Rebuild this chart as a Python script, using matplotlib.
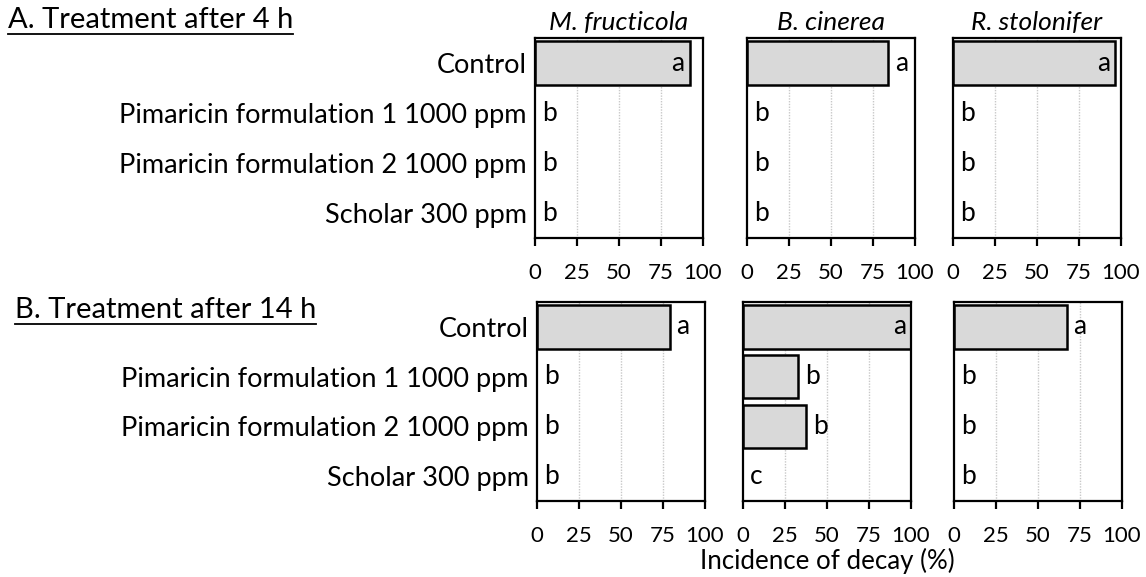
import matplotlib
matplotlib.use("Agg")
import matplotlib.pyplot as plt
from matplotlib.lines import Line2D

plt.rcParams['font.family'] = ['Lato', 'DejaVu Sans']

treatments = ["Control", "Pimaricin formulation 1 1000 ppm",
              "Pimaricin formulation 2 1000 ppm", "Scholar 300 ppm"]
pathogens = ["M. fructicola", "B. cinerea", "R. stolonifer"]

# Incidence of decay (%) after 4 h, per pathogen
decay_4h_mf = [92, 0, 0, 0]
decay_4h_bc = [84, 0, 0, 0]
decay_4h_rs = [96.5, 0, 0, 0]
# Incidence of decay (%) after 14 h, per pathogen
decay_14h_mf = [79, 0, 0, 0]
decay_14h_bc = [100, 33, 37.5, 0]
decay_14h_rs = [67, 0, 0, 0]

letters_4h_mf = ["a", "b", "b", "b"]
letters_4h_bc = ["a", "b", "b", "b"]
letters_4h_rs = ["a", "b", "b", "b"]
letters_14h_mf = ["a", "b", "b", "b"]
letters_14h_bc = ["a", "b", "b", "c"]
letters_14h_rs = ["a", "b", "b", "b"]

xticks = [0, 25, 50, 75, 100]

W, H = 1146, 577
fig = plt.figure(figsize=(W / 100, H / 100), dpi=100)

FS_CAT = 19.5
FS_TICK = 16
FS_LET = 19
FS_TITLE = 19
FS_XLAB = 18.6
FS_HEAD = 21


def px_axes(left, top, width, height):
    return fig.add_axes([left / W, 1 - (top + height) / H, width / W, height / H])


def panel(ax, values, letters, show_labels):
    y = list(range(len(values)))
    # no outline on empty bars so the left spine keeps a uniform weight
    edge_w = [1.8 if v > 0 else 0 for v in values]
    ax.barh(y, values, height=0.87, color="#d9d9d9", edgecolor="black",
            linewidth=edge_w, zorder=3)
    ax.set_xlim(0, 100)
    ax.set_ylim(3.5, -0.5)
    ax.set_xticks(xticks)
    ax.set_xticklabels([str(t) for t in xticks], fontsize=FS_TICK)
    for t in [25, 50, 75]:
        ax.axvline(t, color="#c8c8c8", linestyle=(0, (1, 1)), linewidth=1, zorder=1)
    ax.tick_params(axis="x", direction="out", length=6, width=1.6, pad=12)
    ax.tick_params(axis="y", length=0)
    if show_labels:
        ax.set_yticks(y)
        ax.set_yticklabels(treatments, fontsize=FS_CAT)
        ax.tick_params(axis="y", pad=6)
    else:
        ax.set_yticks([])
    for s in ax.spines.values():
        s.set_linewidth(1.6)
        s.set_zorder(4)
    for yi, (v, lab) in enumerate(zip(values, letters)):
        if v >= 90:
            ax.text(v - 3, yi, lab, ha="right", va="center", fontsize=FS_LET, zorder=5)
        elif v > 0:
            ax.text(v + 4, yi, lab, ha="left", va="center", fontsize=FS_LET, zorder=5)
        else:
            ax.text(4, yi, lab, ha="left", va="center", fontsize=FS_LET, zorder=5)


top_lefts = [535, 747, 953]
bot_lefts = [537, 743, 954]
top_data = [(decay_4h_mf, letters_4h_mf), (decay_4h_bc, letters_4h_bc),
            (decay_4h_rs, letters_4h_rs)]
bot_data = [(decay_14h_mf, letters_14h_mf), (decay_14h_bc, letters_14h_bc),
            (decay_14h_rs, letters_14h_rs)]

for i, (left, (vals, labs)) in enumerate(zip(top_lefts, top_data)):
    ax = px_axes(left, 38, 168, 200)
    panel(ax, vals, labs, i == 0)
    ax.set_title(pathogens[i], fontsize=FS_TITLE, style="italic", pad=6)

for i, (left, (vals, labs)) in enumerate(zip(bot_lefts, bot_data)):
    ax = px_axes(left, 302, 168, 199)
    panel(ax, vals, labs, i == 0)

fig.text(827 / W, 1 - 561 / H, "Incidence of decay (%)", ha="center", va="center",
         fontsize=FS_XLAB)

# Underlined section headings
headings = [("A. Treatment after 4 h", 8, 20), ("B. Treatment after 14 h", 15, 310)]
fig.canvas.draw()
renderer = fig.canvas.get_renderer()
for text, xp, yp in headings:
    t = fig.text(xp / W, 1 - yp / H, text, ha="left", va="center", fontsize=FS_HEAD)
    bb = t.get_window_extent(renderer)
    yline = bb.y0 - 1
    fig.add_artist(Line2D([bb.x0 / W, bb.x1 / W], [yline / H, yline / H],
                          color="black", linewidth=1.3))

fig.savefig("out.png", dpi=100, facecolor="white")
